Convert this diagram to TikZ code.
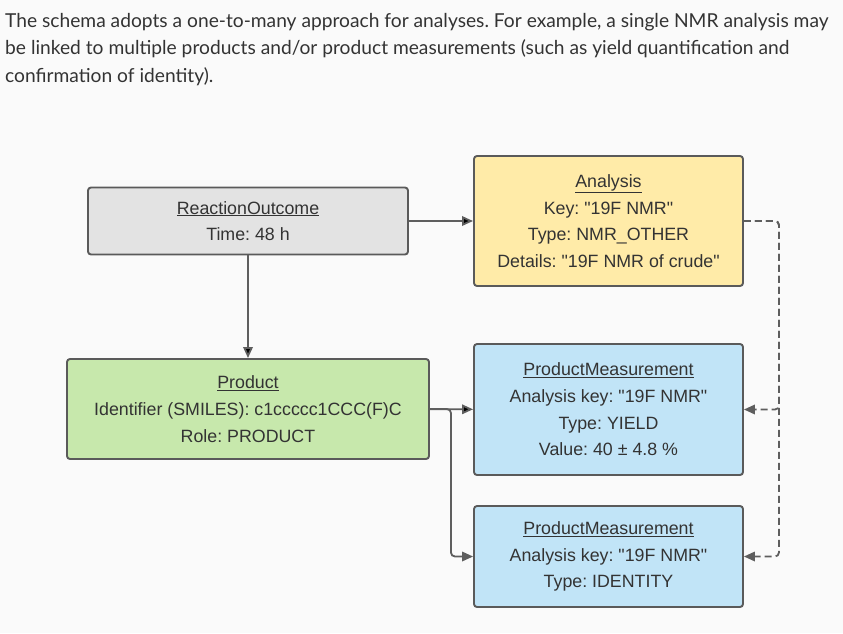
\documentclass[tikz,border=0pt]{standalone}
\usepackage{fontspec}
\setmainfont{Liberation Sans}
\newfontfamily\latofont{Lato}
\usetikzlibrary{positioning,arrows.meta}

\definecolor{bgpaper}{HTML}{FAFAFA}
\definecolor{inktext}{HTML}{333333}
\definecolor{boxline}{HTML}{5A5A5A}
\definecolor{linkline}{HTML}{5E5E5E}
\definecolor{outcomefill}{HTML}{E3E3E3}
\definecolor{analysisfill}{HTML}{FFEBA8}
\definecolor{productfill}{HTML}{C7E8AC}
\definecolor{measurefill}{HTML}{C1E4F7}

\newcommand{\qkey}{\textquotedbl 19F NMR\textquotedbl}
\frenchspacing

\tikzset{
  entity/.style={draw=boxline,line width=1.9pt,rounded corners=3pt,align=center,
    inner sep=0pt,text=inktext,font=\fontsize{17.8}{26.7}\selectfont},
  link/.style={draw=linkline,line width=1.8pt,rounded corners=4pt,
    -{Triangle[length=11pt,width=9.5pt]}},
  keylink/.style={link,dash pattern=on 7pt off 4pt},
}

\begin{document}
\begin{tikzpicture}[x=1pt,y=1pt,on grid]
  \fill[bgpaper] (0,0) rectangle (843,-633);
  \useasboundingbox (0,0) rectangle (843,-633);

  \node[anchor=north west,inner sep=0pt,align=left,text=inktext,
    font=\latofont\fontsize{19.2}{27.5}\selectfont] (intro) at (5,-12.8)
    {The schema adopts a one-to-many approach for analyses. For example, a single NMR analysis may\\
     be linked to multiple products and/or product measurements (such as yield quantification and\\
     confirmation of identity).};

  \node[entity,fill=outcomefill,minimum width=320pt,minimum height=67pt] (outcome) at (248,-221)
    {\underline{ReactionOutcome}\\Time: 48 h};
  \node[entity,fill=analysisfill,minimum width=269pt,minimum height=130pt] (analysis) [right=360.5pt of outcome]
    {\underline{Analysis}\\Key: \qkey\\Type: NMR\_OTHER\\Details: \textquotedbl 19F NMR of crude\textquotedbl};
  \node[entity,fill=productfill,minimum width=362pt,minimum height=100pt] (product) [below=188pt of outcome]
    {\underline{Product}\\Identifier (SMILES): c1ccccc1CCC(F)C\\Role: PRODUCT};
  \node[entity,fill=measurefill,minimum width=269pt,minimum height=131pt] (yield) [below=188.5pt of analysis]
    {\underline{ProductMeasurement}\\Analysis key: \qkey\\Type: YIELD\\Value: 40 ± 4.8 \%};
  \node[entity,fill=measurefill,minimum width=269pt,minimum height=101pt] (identity) [below=147pt of yield]
    {\underline{ProductMeasurement}\\Analysis key: \qkey\\Type: IDENTITY};

  \path[link]
    (outcome) edge (analysis)
    (outcome) edge (product)
    (product) edge (yield);
  \draw[link] (product.east) -- ++(21,0) |- (identity.west);
  \draw[keylink] (analysis.east) -- ++(35,0) |- (yield.east);
  \draw[keylink] (analysis.east) -- ++(35,0) |- (identity.east);
\end{tikzpicture}
\end{document}
